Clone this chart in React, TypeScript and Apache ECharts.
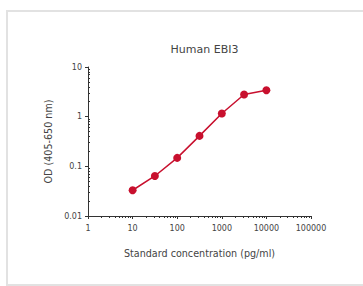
import React, { useEffect, useRef } from "react";
import * as echarts from "echarts";

const concentrations = [10, 31.6, 100, 316, 1000, 3160, 10000];
const odValues = [0.033, 0.064, 0.148, 0.41, 1.16, 2.8, 3.4];
const xMajorTicks = [1, 10, 100, 1000, 10000, 100000];
const yMajorTicks = [0.01, 0.1, 1, 10];
const multipliers = [2, 3, 4, 5, 6, 7, 8, 9];

const xMinorTicks: number[] = [];
for (let i = 0; i < xMajorTicks.length - 1; i++) {
  for (const m of multipliers) xMinorTicks.push(+(xMajorTicks[i] * m).toPrecision(6));
}
const yMinorTicks: number[] = [];
for (let i = 0; i < yMajorTicks.length - 1; i++) {
  for (const m of multipliers) yMinorTicks.push(+(yMajorTicks[i] * m).toPrecision(6));
}

const FONT = "DejaVu Sans";
const TEXT = "#444";
const AXIS = "#333";
const RED = "#c8102e";

export default function App() {
  const ref = useRef<HTMLDivElement>(null);
  useEffect(() => {
    if (!ref.current) return;
    const chart = echarts.init(ref.current, undefined, { renderer: "svg" });
    chart.setOption({
      animation: false,
      backgroundColor: "#fff",
      title: {
        text: "Human EBI3",
        left: 199.5,
        textAlign: "center",
        top: 39,
        textStyle: { fontFamily: FONT, fontSize: 11, fontWeight: "normal", color: TEXT },
      },
      graphic: [
        {
          type: "rect",
          shape: { x: 7, y: 11, width: 400, height: 274 },
          style: { fill: "none", stroke: "#e2e2e2", lineWidth: 2 },
          silent: true,
        },
      ],
      grid: { left: 88, right: 52, top: 67, bottom: 70 },
      xAxis: [
        {
          type: "log",
          logBase: 10,
          min: 1,
          max: 100000,
          position: "bottom",
          name: "Standard concentration (pg/ml)",
          nameLocation: "middle",
          nameGap: 32,
          nameTextStyle: { fontFamily: FONT, fontSize: 9.6, color: TEXT },
          axisLine: { lineStyle: { color: AXIS, width: 1 } },
          axisTick: { length: 3, lineStyle: { color: AXIS } },
          axisLabel: {
            customValues: xMajorTicks,
            fontFamily: FONT,
            fontSize: 8,
            color: TEXT,
            margin: 8,
            formatter: (v: number) => String(Math.round(v)),
          },
          splitLine: { show: false },
        },
        {
          type: "log",
          logBase: 10,
          min: 1,
          max: 100000,
          position: "bottom",
          axisLine: { show: false },
          axisLabel: { show: false },
          axisTick: { customValues: xMinorTicks, length: 2, lineStyle: { color: AXIS } },
          splitLine: { show: false },
        },
      ],
      yAxis: [
        {
          type: "log",
          logBase: 10,
          min: 0.01,
          max: 10,
          position: "left",
          name: "OD (405-650 nm)",
          nameLocation: "middle",
          nameGap: 30,
          nameTextStyle: { fontFamily: FONT, fontSize: 9.6, color: TEXT },
          axisLine: { show: true, lineStyle: { color: AXIS, width: 1 } },
          axisTick: { show: true, length: 3, lineStyle: { color: AXIS } },
          axisLabel: {
            customValues: yMajorTicks,
            fontFamily: FONT,
            fontSize: 8,
            color: TEXT,
            margin: 6,
            formatter: (v: number) => String(+v.toPrecision(3)),
          },
          splitLine: { show: false },
        },
        {
          type: "log",
          logBase: 10,
          min: 0.01,
          max: 10,
          position: "left",
          axisLine: { show: false },
          axisLabel: { show: false },
          axisTick: { show: true, inside: true, customValues: yMinorTicks, length: 2, lineStyle: { color: AXIS } },
          splitLine: { show: false },
        },
      ],
      series: [
        {
          type: "line",
          xAxisIndex: 0,
          yAxisIndex: 0,
          data: concentrations.map((c, i) => [c, odValues[i]]),
          symbol: "circle",
          symbolSize: 8,
          lineStyle: { color: RED, width: 1.5 },
          itemStyle: { color: RED },
        },
      ],
    });
    return () => chart.dispose();
  }, []);
  return (
    <div
      ref={ref}
      style={{ position: "absolute", left: 0, top: 0, width: 363, height: 286 }}
    />
  );
}
